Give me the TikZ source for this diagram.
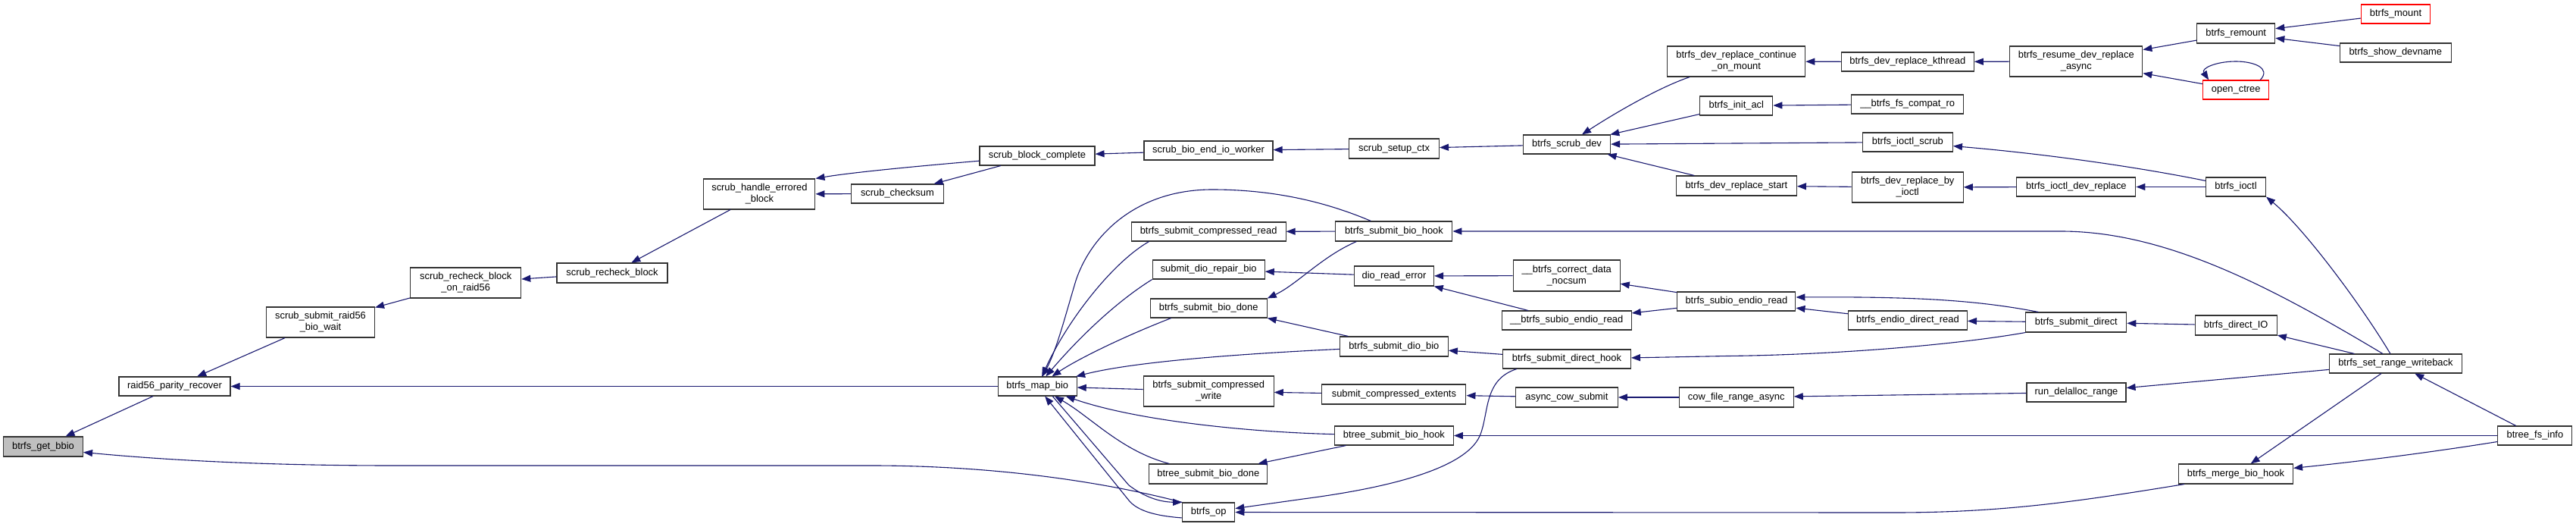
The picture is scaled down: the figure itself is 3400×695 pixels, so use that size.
\documentclass[tikz,border=0pt]{standalone}
\usepackage{fontspec}
\setmainfont{Liberation Sans}
\usetikzlibrary{arrows.meta}
\definecolor{edgecol}{HTML}{191970}
\definecolor{nodegray}{HTML}{BFBFBF}
\definecolor{bordcol}{HTML}{333333}
\begin{document}
\begin{tikzpicture}[x=1pt,y=-1pt,
  fn/.style={draw=bordcol, fill=white, line width=1.1pt, inner sep=0pt,
    font=\fontsize{12.9}{15}\selectfont, align=center},
  redfn/.style={fn, draw=red},
  link/.style={draw=edgecol, line width=1.1pt, -{Triangle[length=12pt,width=9pt]}}]
\fill[white] (0,0) rectangle (3400,695);
\useasboundingbox (0,0) rectangle (3400,695);
% nodes
\node[fn, fill=nodegray, minimum width=105pt, minimum height=26pt] (getbbio) at (57,589) {btrfs\_get\_bbio};
\node[fn, minimum width=147pt, minimum height=25pt] (raid) at (230.5,509.5) {raid56\_parity\_recover};
\node[fn, minimum width=143pt, minimum height=40pt] (ssrbw) at (423,425) {scrub\_submit\_raid56\\\_bio\_wait};
\node[fn, minimum width=146pt, minimum height=40pt] (srbor) at (614.7,373) {scrub\_recheck\_block\\\_on\_raid56};
\node[fn, minimum width=146pt, minimum height=26pt] (srb) at (808,360) {scrub\_recheck\_block};
\node[fn, minimum width=147pt, minimum height=40pt] (sheb) at (1002.4,256) {scrub\_handle\_errored\\\_block};
\node[fn, minimum width=122pt, minimum height=25pt] (schk) at (1184.4,255.5) {scrub\_checksum};
\node[fn, minimum width=152pt, minimum height=25pt] (sbc) at (1369,205.5) {scrub\_block\_complete};
\node[fn, minimum width=170pt, minimum height=25pt] (sbeiw) at (1595,198.5) {scrub\_bio\_end\_io\_worker};
\node[fn, minimum width=119pt, minimum height=26pt] (ssc) at (1840,196) {scrub\_setup\_ctx};
\node[fn, minimum width=115pt, minimum height=25pt] (bsd) at (2068,190.5) {btrfs\_scrub\_dev};
\node[fn, minimum width=182pt, minimum height=40pt] (bdrcom) at (2291.7,81) {btrfs\_dev\_replace\_continue\\\_on\_mount};
\node[fn, minimum width=175pt, minimum height=25pt] (bdrk) at (2517.8,81.5) {btrfs\_dev\_replace\_kthread};
\node[fn, minimum width=175pt, minimum height=40pt] (brdra) at (2740.3,81) {btrfs\_resume\_dev\_replace\\\_async};
\node[fn, minimum width=103pt, minimum height=26pt] (brem) at (2951.2,44) {btrfs\_remount};
\node[redfn, minimum width=91pt, minimum height=25pt] (bmount) at (3162,18.5) {btrfs\_mount};
\node[fn, minimum width=147pt, minimum height=25pt] (bshow) at (3161.8,69.5) {btrfs\_show\_devname};
\node[redfn, minimum width=87pt, minimum height=25pt] (octree) at (2951.2,118.5) {open\_ctree};
\node[fn, minimum width=96pt, minimum height=25pt] (binit) at (2291.8,139.5) {btrfs\_init\_acl};
\node[fn, minimum width=148pt, minimum height=25pt] (bfscro) at (2517.7,137.5) {\_\_btrfs\_fs\_compat\_ro};
\node[fn, minimum width=119pt, minimum height=25pt] (bis) at (2517.9,187.5) {btrfs\_ioctl\_scrub};
\node[fn, minimum width=159pt, minimum height=26pt] (bdrs) at (2291.9,245) {btrfs\_dev\_replace\_start};
\node[fn, minimum width=147pt, minimum height=40pt] (bdrbi) at (2517.7,247) {btrfs\_dev\_replace\_by\\\_ioctl};
\node[fn, minimum width=157pt, minimum height=25pt] (bidr) at (2740.3,246.5) {btrfs\_ioctl\_dev\_replace};
\node[fn, minimum width=79pt, minimum height=25pt] (bioctl) at (2951,246.5) {btrfs\_ioctl};
\node[fn, minimum width=154pt, minimum height=26pt] (bsbh) at (1839.9,305) {btrfs\_submit\_bio\_hook};
\node[fn, minimum width=204pt, minimum height=25pt] (bscr) at (1595.1,305.5) {btrfs\_submit\_compressed\_read};
\node[fn, minimum width=148pt, minimum height=25pt] (sdrb) at (1595.2,355.5) {submit\_dio\_repair\_bio};
\node[fn, minimum width=154pt, minimum height=25pt] (bsbd) at (1595.2,406.5) {btrfs\_submit\_bio\_done};
\node[fn, minimum width=104pt, minimum height=25pt] (bmb) at (1369.2,509.5) {btrfs\_map\_bio};
\node[fn, minimum width=172pt, minimum height=40pt] (bscw) at (1595.2,516) {btrfs\_submit\_compressed\\\_write};
\node[fn, minimum width=156pt, minimum height=26pt] (btsbd) at (1594.8,625) {btree\_submit\_bio\_done};
\node[fn, minimum width=69pt, minimum height=25pt] (bop) at (1595.2,675.5) {btrfs\_op};
\node[fn, minimum width=105pt, minimum height=26pt] (dre) at (1840,364) {dio\_read\_error};
\node[fn, minimum width=141pt, minimum height=41pt] (bcdn) at (2067.7,363.5) {\_\_btrfs\_correct\_data\\\_nocsum};
\node[fn, minimum width=171pt, minimum height=25pt] (bsei) at (2067.7,422.5) {\_\_btrfs\_subio\_endio\_read};
\node[fn, minimum width=143pt, minimum height=26pt] (bsdb) at (1839.8,457) {btrfs\_submit\_dio\_bio};
\node[fn, minimum width=169pt, minimum height=25pt] (bsdh) at (2067.9,473.5) {btrfs\_submit\_direct\_hook};
\node[fn, minimum width=190pt, minimum height=26pt] (sce) at (1839.9,520) {submit\_compressed\_extents};
\node[fn, minimum width=135pt, minimum height=26pt] (acs) at (2067.9,524) {async\_cow\_submit};
\node[fn, minimum width=157pt, minimum height=25pt] (btsbh) at (1839.9,574.5) {btree\_submit\_bio\_hook};
\node[fn, minimum width=156pt, minimum height=25pt] (bser) at (2291.9,397.5) {btrfs\_subio\_endio\_read};
\node[fn, minimum width=157pt, minimum height=25pt] (bedr) at (2517.9,422.5) {btrfs\_endio\_direct\_read};
\node[fn, minimum width=133pt, minimum height=26pt] (bsdir) at (2740.3,425) {btrfs\_submit\_direct};
\node[fn, minimum width=151pt, minimum height=26pt] (cfra) at (2291.7,524) {cow\_file\_range\_async};
\node[fn, minimum width=131pt, minimum height=25pt] (rdr) at (2740.5,517.5) {run\_delalloc\_range};
\node[fn, minimum width=108pt, minimum height=26pt] (bdio) at (2951.2,429) {btrfs\_direct\_IO};
\node[fn, minimum width=175pt, minimum height=25pt] (bsrw) at (3161.9,479.5) {btrfs\_set\_range\_writeback};
\node[fn, minimum width=98pt, minimum height=25pt] (bfi) at (3345.9,574.5) {btree\_fs\_info};
\node[fn, minimum width=151pt, minimum height=26pt] (bmbh) at (2951,625) {btrfs\_merge\_bio\_hook};
% edges (caller -> callee)
\draw[link] (raid) -- (getbbio);
\draw[link] (bop.north west) .. controls (1475,640) and (1330,614) .. (1150,614) -- (520,614) .. controls (320,614) and (190,604) .. (getbbio.-8);
\draw[link] (bmb) -- (raid);
\draw[link] (ssrbw) -- (raid);
\draw[link] (srbor) -- (ssrbw);
\draw[link] (srb) -- (srbor);
\draw[link] (sheb) -- (srb);
\draw[link] (sbc.-175) .. controls (1200,220) and (1120,228) .. (sheb.north east);
\draw[link] (schk) -- (sheb);
\draw[link] (sbc) -- (schk);
\draw[link] (sbeiw) -- (sbc);
\draw[link] (ssc) -- (sbeiw);
\draw[link] (bsd) -- (ssc);
\draw[link] (bdrcom) .. controls (2190,115) and (2130,150) .. (bsd);
\draw[link] (binit) -- (bsd);
\draw[link] (bis) -- (bsd);
\draw[link] (bdrs) -- (bsd);
\draw[link] (bdrk) -- (bdrcom);
\draw[link] (brdra) -- (bdrk);
\draw[link] (brem) -- (brdra);
\draw[link] (octree) -- (brdra);
\draw[link] (bmount) -- (brem);
\draw[link] (bshow) -- (brem);
\draw[link] ([xshift=32pt]octree.north) .. controls (2998,90) and (2975,81) .. (2951,81) .. controls (2925,81) and (2905,90) .. ([xshift=-36pt]octree.north);
\draw[link] (bfscro) -- (binit);
\draw[link] (bioctl) .. controls (2820,220) and (2700,203) .. (bis);
\draw[link] (bdrbi) -- (bdrs);
\draw[link] (bidr) -- (bdrbi);
\draw[link] (bioctl) -- (bidr);
\draw[link] ([xshift=-7pt]bsrw.north) .. controls (3115,400) and (3040,300) .. (bioctl.south east);
\draw[link] ([xshift=-17pt]bsrw.north) .. controls (3000,380) and (2860,305) .. (2720,305) -- (bsbh);
\draw[link] (bsrw) -- (bdio);
\draw[link] (bsrw) -- (rdr);
\draw[link] (bsrw) -- (bmbh);
\draw[link] (bfi) -- (bsrw);
\draw[link] (bfi) -- (btsbh);
\draw[link] (bfi) .. controls (3200,598) and (3100,610) .. (bmbh);
\draw[link] ([xshift=8pt]bmbh.south west) .. controls (2750,660) and (2650,676) .. (2500,676) -- (bop);
\draw[link] (bdio) -- (bsdir);
\draw[link] ([xshift=17pt]bsdir.north west) .. controls (2610,396) and (2530,391) .. (bser.4);
\draw[link] (bedr) -- (bser);
\draw[link] (bsdir) -- (bedr);
\draw[link] (bsdir.south west) .. controls (2580,455) and (2420,468) .. (2280,469.5) -- (bsdh);
\draw[link] (bser) -- (bcdn);
\draw[link] (bser) -- (bsei);
\draw[link] (bcdn) -- (dre);
\draw[link] (bsei) -- (dre);
\draw[link] (dre) -- (sdrb);
\draw[link] ([xshift=28pt]bsbh.south west) .. controls (1745,338) and (1712,375) .. (bsbd.north east);
\draw[link] (bsdb) -- (bsbd.south east);
\draw[link] (bsdb) .. controls (1650,466) and (1500,476) .. (bmb);
\draw[link] ([xshift=47pt]bsbh.north west) .. controls (1740,262) and (1670,250) .. (1600,250) .. controls (1500,250) and (1440,310) .. (1420,370) .. controls (1405,420) and (1395,460) .. (bmb);
\draw[link] (bsbh) -- (bscr);
\draw[link] ([xshift=24pt]bscr.south west) .. controls (1470,345) and (1410,420) .. (bmb);
\draw[link] (sdrb.south west) .. controls (1470,400) and (1420,450) .. (bmb);
\draw[link] ([xshift=28pt]bsbd.south west) .. controls (1480,445) and (1420,475) .. (bmb);
\draw[link] (bscw) -- (bmb);
\draw[link] (sce) -- (bscw);
\draw[link] (acs) -- (sce);
\draw[link] (cfra) -- (acs);
\draw[link] (rdr) -- (cfra);
\draw[link] (btsbh) .. controls (1650,570) and (1500,555) .. (bmb);
\draw[link] (btsbh) -- (btsbd);
\draw[link] ([xshift=27pt]btsbd.north west) .. controls (1480,595) and (1440,550) .. (bmb);
\draw[link] (bop.192) .. controls (1520,680) and (1500,672) .. (1490,660) -- ([xshift=10pt]bmb.south);
\draw[link] ([xshift=20pt]bmb.south) -- (1490,640) .. controls (1510,655) and (1530,662) .. (bop.north west);
\draw[link] ([xshift=19pt]bsdh.south west) .. controls (1960,500) and (1965,540) .. (1955,570) .. controls (1940,620) and (1820,645) .. (1720,658) -- (bop);
\draw[link] (bsdh) -- (bsdb);
\end{tikzpicture}
\end{document}
